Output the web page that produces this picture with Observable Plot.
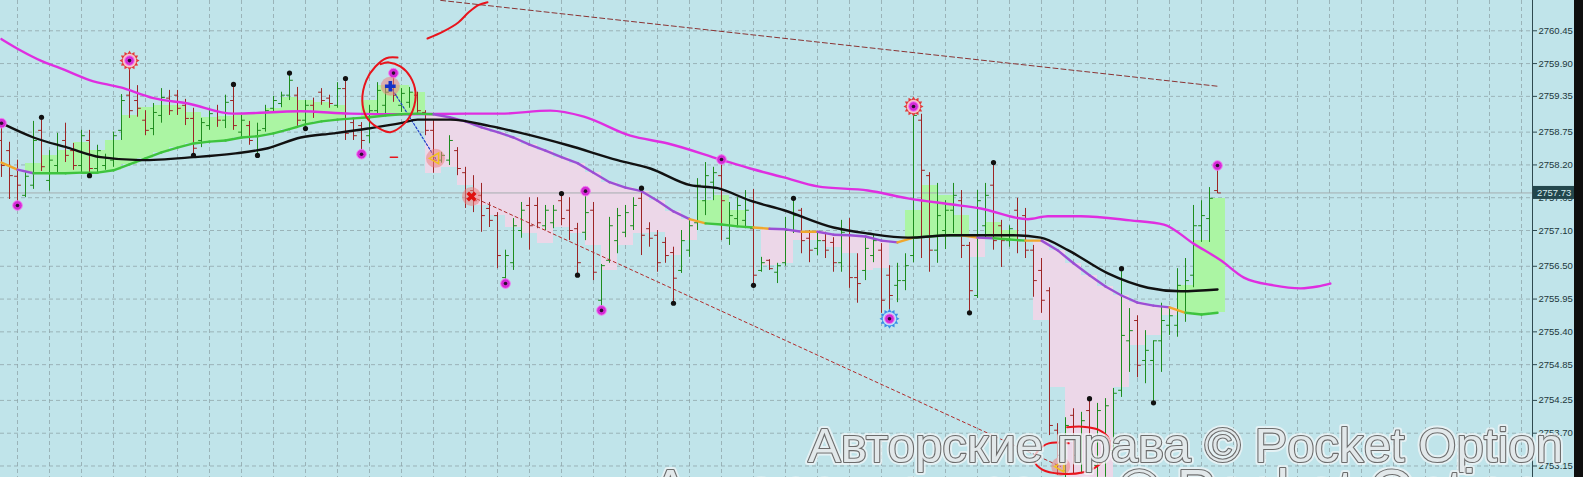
<!DOCTYPE html>
<html><head><meta charset="utf-8">
<script src="https://cdn.jsdelivr.net/npm/d3@7"></script>
<script src="https://cdn.jsdelivr.net/npm/@observablehq/plot@0.6"></script>
<style>html,body{margin:0;padding:0;background:#c0e4ea;overflow:hidden}</style>
</head><body><div id="chart"></div>
<script>
// ---------- OHLC bars (one per index) ----------
const barHigh = [
2758.91,2758.58,2758.28,2758.07,2758.93,2759.00,2758.44,2758.73,2758.90,2758.56,
2758.78,2758.78,2758.53,2758.38,2758.75,2759.38,2759.87,2759.53,2759.11,2759.23,
2759.48,2759.45,2759.45,2759.30,2759.15,2758.98,2759.15,2759.20,2759.37,2759.55,
2759.03,2758.93,2758.90,2759.20,2759.35,2759.42,2759.74,2759.50,2759.28,2759.32,
2759.48,2759.37,2759.58,2759.65,2758.98,2758.91,2759.20,2759.58,2759.50,2759.72,
2759.48,2759.50,2759.42,2759.11,2758.95,2758.41,2758.69,2758.49,2758.16,2758.02,
2757.89,2757.57,2757.40,2756.77,2757.30,2757.57,2757.65,2757.65,2757.52,2757.52,
2757.72,2757.65,2757.22,2757.76,2757.57,2756.53,2757.32,2757.47,2757.52,2757.65,
2757.81,2757.23,2757.10,2756.98,2756.82,2757.10,2757.30,2757.97,2758.24,2758.16,
2758.31,2757.57,2757.65,2757.77,2757.79,2756.65,2756.61,2756.55,2757.32,2757.64,
2757.47,2757.10,2757.07,2757.07,2756.98,2757.27,2757.30,2756.71,2756.98,2757.02,
2756.88,2756.51,2756.55,2756.71,2759.16,2759.05,2758.07,2757.89,2757.60,2757.89,
2757.77,2756.90,2757.77,2757.89,2758.24,2757.27,2757.18,2757.64,2757.47,2756.85,
2756.63,2756.14,2753.86,2753.96,2754.11,2754.05,2754.28,2754.20,2754.28,2754.45,
2756.46,2755.79,2755.67,2755.42,2755.25,2755.88,2755.81,2756.46,2756.63,2757.52,
2757.60,2757.82,2758.19];
const barLow = [
2757.99,2757.62,2757.57,2757.65,2757.79,2758.09,2757.76,2758.06,2758.24,2758.11,
2758.07,2758.02,2758.06,2758.11,2758.16,2758.61,2758.98,2759.00,2758.69,2758.69,
2758.90,2759.03,2759.03,2758.86,2758.36,2758.49,2758.78,2758.83,2758.81,2758.78,
2758.66,2758.53,2758.36,2758.75,2759.08,2759.16,2759.28,2758.81,2758.81,2758.98,
2759.20,2759.15,2759.15,2758.61,2758.61,2758.41,2758.56,2759.06,2759.06,2759.25,
2759.08,2759.15,2759.03,2758.69,2758.06,2758.23,2758.19,2758.02,2757.47,2757.40,
2757.07,2757.15,2756.46,2756.23,2756.43,2756.97,2756.77,2757.13,2757.10,2757.13,
2757.18,2756.93,2756.35,2756.93,2756.26,2755.76,2756.55,2756.71,2756.98,2757.10,
2756.68,2756.82,2756.40,2756.55,2755.88,2756.38,2756.65,2757.10,2757.35,2757.60,
2756.93,2756.85,2757.15,2757.13,2756.18,2756.40,2756.43,2756.21,2756.50,2757.05,
2756.71,2756.56,2756.68,2756.63,2756.40,2756.40,2756.13,2755.88,2756.26,2756.56,
2755.71,2755.71,2755.89,2756.09,2756.56,2756.63,2756.40,2756.55,2756.78,2757.05,
2756.63,2755.72,2755.96,2756.98,2756.77,2756.48,2756.82,2756.71,2756.63,2755.98,
2755.71,2753.66,2752.99,2752.91,2753.02,2753.02,2753.02,2752.96,2752.96,2753.24,
2754.30,2754.72,2754.63,2754.53,2754.21,2754.72,2755.34,2755.31,2755.56,2756.14,
2756.90,2756.90,2757.72];
const barOpen = [
2758.61,2758.44,2758.01,2757.69,2757.86,2758.78,2757.94,2758.19,2758.61,2758.44,
2758.19,2758.61,2758.14,2758.19,2758.28,2758.78,2759.37,2759.28,2758.95,2758.81,
2759.03,2759.32,2759.37,2759.20,2758.98,2758.61,2758.86,2759.11,2758.95,2759.28,
2758.75,2758.86,2758.44,2758.81,2759.15,2759.23,2759.37,2759.37,2758.95,2759.20,
2759.42,2759.32,2759.20,2759.48,2758.91,2758.86,2758.69,2759.11,2759.20,2759.53,
2759.20,2759.25,2759.37,2759.08,2758.78,2758.28,2758.28,2758.44,2758.07,2757.77,
2757.69,2757.47,2757.35,2756.31,2756.56,2757.10,2757.52,2757.52,2757.18,2757.23,
2757.60,2757.44,2757.13,2757.07,2757.44,2755.93,2756.60,2756.93,2757.07,2757.18,
2757.64,2757.13,2757.02,2756.90,2756.73,2756.43,2756.77,2757.23,2757.60,2757.91,
2758.02,2756.97,2757.30,2757.27,2757.13,2756.43,2756.60,2756.40,2756.56,2757.10,
2757.44,2756.97,2756.80,2756.93,2756.90,2756.56,2757.02,2756.31,2756.43,2756.68,
2756.77,2756.35,2756.18,2756.26,2756.68,2758.95,2758.02,2756.77,2757.10,2757.44,
2757.60,2756.85,2756.01,2757.18,2757.86,2757.18,2756.93,2757.44,2757.35,2756.77,
2756.43,2756.09,2753.75,2753.07,2754.00,2753.24,2754.08,2753.16,2753.24,2753.41,
2754.42,2755.25,2755.59,2754.92,2754.92,2755.25,2755.51,2755.51,2756.09,2756.35,
2757.18,2757.30,2757.77];
const barClose = [
2758.19,2758.02,2757.86,2758.01,2758.61,2758.17,2758.28,2758.53,2758.36,2758.19,
2758.69,2758.14,2758.44,2758.31,2758.69,2759.28,2759.11,2759.15,2758.78,2759.08,
2759.33,2759.11,2759.15,2758.98,2758.48,2758.91,2759.06,2758.95,2759.25,2758.86,
2758.95,2758.61,2758.78,2759.11,2759.28,2759.37,2759.62,2758.95,2759.20,2759.08,
2759.28,2759.23,2759.48,2758.73,2758.69,2758.61,2759.11,2759.45,2759.42,2759.37,
2759.40,2759.42,2759.11,2758.78,2758.28,2758.36,2758.61,2758.14,2757.64,2757.60,
2757.35,2757.27,2756.68,2756.68,2757.18,2757.44,2757.18,2757.23,2757.44,2757.44,
2757.30,2757.10,2756.56,2757.40,2756.40,2756.51,2757.18,2757.35,2757.40,2757.52,
2757.02,2756.97,2756.56,2756.68,2756.30,2756.93,2757.18,2757.86,2758.02,2758.07,
2757.60,2757.35,2757.52,2757.44,2756.35,2756.56,2756.46,2756.51,2757.10,2757.35,
2756.93,2756.77,2756.93,2756.77,2756.56,2757.07,2756.31,2756.21,2756.80,2756.93,
2755.93,2756.01,2756.26,2756.51,2759.03,2758.11,2756.77,2757.35,2757.44,2757.69,
2756.85,2756.09,2757.60,2757.69,2756.93,2756.93,2757.13,2756.93,2756.77,2756.26,
2755.93,2753.83,2753.33,2753.83,2753.33,2753.91,2753.33,2754.08,2754.16,2754.37,
2755.34,2755.42,2754.84,2755.09,2755.25,2755.59,2755.67,2756.18,2756.26,2757.18,
2757.35,2757.64,2757.73];
const lastPrice = 2757.73;

// ---------- axis ticks ----------
const yTicks = [2760.45,2759.90,2759.35,2758.75,2758.20,2757.65,2757.10,2756.50,2755.95,2755.40,2754.85,2754.25,2753.70,2753.15];

// ---------- medium MA (colored) + cloud edge, sampled every 2 bars ----------
const maIdx = [0,2,4,6,8,10,12,14,16,18,20,22,24,26,28,30,32,34,36,38,40,42,44,46,48,50,52,54,56,58,60,62,64,66,68,70,72,74,76,78,80,82,84,86,88,90,92,94,96,98,100,102,104,106,108,110,112,114,116,118,120,122,124,126,128,130,132,134,136,138,140,142,144,146,148,150,152];
const maVal = [2758.24,2758.12,2758.06,2758.06,2758.06,2758.07,2758.07,2758.11,2758.21,2758.31,
2758.41,2758.49,2758.56,2758.59,2758.61,2758.66,2758.68,2758.73,2758.80,2758.88,
2758.93,2758.96,2758.98,2759.00,2759.03,2759.05,2759.06,2759.05,2759.00,2758.93,
2758.83,2758.75,2758.66,2758.54,2758.44,2758.33,2758.23,2758.07,2757.91,2757.82,
2757.76,2757.60,2757.42,2757.29,2757.22,2757.20,2757.17,2757.15,2757.13,2757.12,
2757.08,2757.08,2757.03,2757.02,2757.00,2756.93,2756.90,2756.98,2757.00,2757.02,
2757.02,2756.98,2756.97,2756.95,2756.93,2756.93,2756.77,2756.55,2756.35,2756.16,
2756.01,2755.89,2755.84,2755.81,2755.72,2755.69,2755.72];
const maState = ("op" + "ggggggggggggggggggggggggg" + "pppppppppppppppp" + "o" + "ggg" + "o" + "pp" + "o" +
  "ppppp" + "o" + "ggg" + "o" + "p" + "gg" + "o" + "pppppppp" + "o" + "ggg").split("");
const cloudEdge = [null,null,2758.23,2758.36,2758.44,2758.58,2758.44,2758.61,2759.03,2759.16,
2759.20,2759.20,2759.08,2759.00,2759.01,2759.05,2759.08,2759.15,2759.33,2759.28,
2759.25,2759.20,null,2759.28,2759.53,2759.53,2759.42,2758.06,2758.16,2757.86,
2757.52,2757.35,2757.15,2757.05,2756.88,2757.15,2757.05,2756.85,2756.43,2756.85,
2757.05,2757.07,2756.68,2756.93,2757.60,2757.69,2757.44,null,2756.51,2756.55,
2756.93,2756.93,2756.82,2756.71,2756.43,2756.46,null,2757.44,2757.86,2757.69,
2757.35,2756.65,2757.23,2757.10,null,2755.59,2754.47,2752.96,2752.96,2752.96,
2754.47,2755.17,2755.34,2755.67,2756.18,2756.93,2757.64];

// ---------- magenta line (shifted forward) ----------
const magIdx = [0,2.4,4.9,7.4,11.1,14.9,19,23.3,29,37.4,43.6,49.9,58.3,62.4,68.6,72.8,78.6,83.3,89.9,93.6,97.8,102,108.3,113.3,118.6,122.4,128.3,130.8,134.9,141.1,145.3,149,152.4,155.3,159,162.4,164.5,166.1];
const magVal = [2760.31,2760.12,2759.95,2759.82,2759.62,2759.50,2759.32,2759.23,2759.06,2759.10,
2759.06,2759.05,2759.06,2759.06,2759.11,2759.01,2758.69,2758.56,2758.29,2758.14,
2757.99,2757.84,2757.77,2757.64,2757.54,2757.47,2757.29,2757.34,2757.34,2757.27,
2757.20,2756.88,2756.60,2756.31,2756.18,2756.13,2756.16,2756.21];

// ---------- black slow MA ----------
const blkIdx = [0,4,8.25,12.4,17.4,24,29,33.3,37.4,41.5,45.8,49.9,52,56.1,61.1,64.5,70.8,77,81.1,86.1,89.5,93.6,97.8,104,108.3,113.3,118.6,126.5,129.9,133.3,138.3,143.3,147.4,152];
const blkVal = [2758.90,2758.66,2758.49,2758.33,2758.28,2758.33,2758.39,2758.48,2758.66,2758.73,
2758.81,2758.90,2758.96,2758.96,2758.85,2758.75,2758.53,2758.28,2758.14,2757.86,
2757.81,2757.60,2757.44,2757.15,2757.05,2756.98,2757.02,2757.02,2756.98,2756.77,
2756.38,2756.14,2756.08,2756.11];

// ---------- markers ----------
const fracHighIdx = [5,29,36,43,70,80,99,124,136,140];
const fracLowIdx = [11,24,32,38,72,84,94,121,144];
const magDotIdx = [0,2,45,49,63,73,75,90,152];
const magDotVal = [2758.90,2757.52,2758.38,2759.74,2756.21,2757.76,2755.76,2758.29,2758.19];
const sunIdx = [16,114,111];
const sunVal = [2759.95,2759.18,2755.62];
const sunKind = ["red","red","blue"];
const signalIdx = [48.6,54.25,58.75,132.4];
const signalVal = [2759.52,2758.31,2757.67,2753.14];
const signalGlyph = ["cross","triangle","star","triangle"];

// ---------- drawn lines ----------
const redTrendIdx = [58.75,132.4], redTrendVal = [2757.67,2753.14];
const blueTrendIdx = [48.6,54.25], blueTrendVal = [2759.52,2758.31];
const brownTrendIdx = [54.9,152], brownTrendVal = [2760.96,2759.52];
const ann1Idx = [49.5,48.1,46.75,45.6,45.1,45.6,47,48.6,50.25,51.4,51.75,51.1,49.9,48.4,47.4];
const ann1Val = [2760.00,2759.99,2759.85,2759.62,2759.28,2759.01,2758.83,2758.75,2758.88,2759.11,2759.42,2759.68,2759.85,2759.92,2759.89];
const ann2Idx = [53.25,55.25,57.1,58.4,59.6,60.75];
const ann2Val = [2760.32,2760.44,2760.59,2760.76,2760.88,2760.93];
const ann3Idx = [48.6,49.5], ann3Val = [2758.33,2758.33];
const ann4Idx = [133.4,130.9,129.6,129.1,130.1,132.4,135.1,137.1,138.4,138.4,137.1,135.1,133.2];
const ann4Val = [2753.53,2753.53,2753.41,2753.24,2753.09,2753.02,2753.04,2753.16,2753.38,2753.61,2753.76,2753.81,2753.80];
const watermark = "Авторские права © Pocket Option";

// ---------- build ----------
const W = 1583, H = 477;
const xDomain = [-0.125, 191.375];
const yDomain = [2752.957, 2760.958];
const pts = (xs, ys) => xs.map((x, k) => ({x, y: ys[k]}));
const bars = barHigh.map((h, i) => ({i, h, l: barLow[i], o: barOpen[i], c: barClose[i]}));
const barColor = d => d.c >= d.o ? "#1e8c1e" : "#9c2525";
const maPts = maIdx.map((i, k) => ({i, v: maVal[k], s: maState[k], e: cloudEdge[k]}));
const maSegs = maPts.slice(0, -1).map((d, k) => ({x1: d.i, y1: d.v, x2: maPts[k + 1].i, y2: maPts[k + 1].v, s: d.s}));
const stateColor = {g: "#3ec43e", p: "#9b4fd4", o: "#f0a72c"};
const clouds = maPts.filter(d => d.e != null);
const magDots = pts(magDotIdx, magDotVal);
const suns = sunIdx.map((x, k) => ({x, y: sunVal[k], kind: sunKind[k]}));
const signals = signalIdx.map((x, k) => ({x, y: signalVal[k], g: signalGlyph[k]}));

const sunSymbol = {
  draw(ctx, size) {
    const R = Math.sqrt(size / Math.PI), r = R * 0.72, n = 12;
    for (let k = 0; k < 2 * n; k++) {
      const a = k * Math.PI / n, rr = k % 2 ? r : R;
      const px = rr * Math.cos(a), py = rr * Math.sin(a);
      k ? ctx.lineTo(px, py) : ctx.moveTo(px, py);
    }
    ctx.closePath();
  }
};
const gridCol = "#8ea3a7";

const plot = Plot.plot({
  width: W, height: H,
  marginTop: 0, marginBottom: 0, marginLeft: 0, marginRight: 51,
  style: {background: "#c0e4ea", fontFamily: "'Liberation Sans', Arial, sans-serif", fontSize: "9.5px", color: "#22373b"},
  x: {domain: xDomain, axis: null},
  y: {domain: yDomain},
  color: {type: "identity"},
  marks: [
    Plot.ruleX(d3.range(2, 191, 4), {stroke: gridCol, strokeDasharray: "4,3", strokeOpacity: 0.75}),
    Plot.ruleY(yTicks, {stroke: gridCol, strokeDasharray: "4,3", strokeOpacity: 0.75}),
    Plot.rect(clouds, {x1: d => d.i - 1, x2: d => d.i + 1, y1: "v", y2: "e",
      fill: d => d.e > d.v ? "#abf5a3" : "#ecd7e8", shapeRendering: "crispEdges"}),
    Plot.ruleY([lastPrice], {stroke: "#a5adaf", strokeWidth: 1}),
    Plot.line(pts(brownTrendIdx, brownTrendVal), {x: "x", y: "y", stroke: "#8a3434", strokeDasharray: "5,3", strokeWidth: 1}),
    Plot.ruleX(bars, {x: "i", y1: "l", y2: "h", stroke: barColor, strokeWidth: 1}),
    Plot.link(bars, {x1: d => d.i - 0.42, x2: "i", y1: "o", y2: "o", stroke: barColor}),
    Plot.link(bars, {x1: "i", x2: d => d.i + 0.42, y1: "c", y2: "c", stroke: barColor}),
    Plot.line(pts(redTrendIdx, redTrendVal), {x: "x", y: "y", stroke: "#b02a2a", strokeDasharray: "3,3", strokeWidth: 1}),
    Plot.line(pts(blueTrendIdx, blueTrendVal), {x: "x", y: "y", stroke: "#1a3cc8", strokeDasharray: "2,2", strokeWidth: 1.2}),
    Plot.line(pts(magIdx, magVal), {x: "x", y: "y", stroke: "#df2ee0", strokeWidth: 2.4, curve: "monotone-x"}),
    Plot.link(maSegs, {x1: "x1", y1: "y1", x2: "x2", y2: "y2", stroke: d => stateColor[d.s], strokeWidth: 2.4, strokeLinecap: "round"}),
    Plot.line(pts(blkIdx, blkVal), {x: "x", y: "y", stroke: "#111111", strokeWidth: 2.4, curve: "monotone-x"}),
    Plot.dot(bars.filter(d => fracHighIdx.includes(d.i)), {x: "i", y: "h", r: 2.6, fill: "#111"}),
    Plot.dot(bars.filter(d => fracLowIdx.includes(d.i)), {x: "i", y: "l", r: 2.6, fill: "#111"}),
    Plot.dot(suns, {x: "x", y: "y", r: 10, symbol: sunSymbol, fill: d => d.kind === "red" ? "#e23b3b" : "#3a8fe8"}),
    Plot.dot(suns, {x: "x", y: "y", r: 6.8, fill: d => d.kind === "red" ? "#f7c6c6" : "#bfe0fa"}),
    Plot.dot(magDots.concat(suns), {x: "x", y: "y", r: 4.8, fill: "#d42ad6", stroke: "#f27cf2", strokeWidth: 1}),
    Plot.dot(magDots.concat(suns), {x: "x", y: "y", r: 1.8, fill: "#2a0f30"}),
    Plot.dot(signals, {x: "x", y: "y", r: 9.5, fill: "#ee7f7f", fillOpacity: 0.55}),
    Plot.dot(signals.filter(d => d.g === "cross"), {x: "x", y: "y", r: 4.5, symbol: "cross", fill: "#1432c8"}),
    Plot.dot(signals.filter(d => d.g === "triangle"), {x: "x", y: "y", r: 4, symbol: "triangle", fill: "none", stroke: "#f2c21c", strokeWidth: 1.5, rotate: -90}),
    Plot.dot(signals.filter(d => d.g === "star"), {x: "x", y: "y", r: 4.5, symbol: "cross", fill: "#e01010", rotate: 45}),
    Plot.line(pts(ann1Idx, ann1Val), {x: "x", y: "y", stroke: "#e8141c", strokeWidth: 2, curve: "catmull-rom"}),
    Plot.line(pts(ann2Idx, ann2Val), {x: "x", y: "y", stroke: "#e8141c", strokeWidth: 2, curve: "catmull-rom"}),
    Plot.line(pts(ann3Idx, ann3Val), {x: "x", y: "y", stroke: "#e8141c", strokeWidth: 1.5}),
    Plot.line(pts(ann4Idx, ann4Val), {x: "x", y: "y", stroke: "#e8141c", strokeWidth: 2, curve: "catmull-rom"}),
    Plot.axisY(yTicks, {anchor: "right", tickSize: 4, tickPadding: 2, tickFormat: d => d.toFixed(2), label: null, fill: "#22373b", stroke: "#2f4a50"}),
    Plot.ruleX([xDomain[1]], {stroke: "#2f4a50", strokeWidth: 1})
  ]
});
document.getElementById("chart").appendChild(plot);

// ---------- overlays: current price tag, screen edge, watermark ----------
const svg = d3.select(plot);
const yp = plot.scale("y").apply(lastPrice);
const xAxis = plot.scale("x").apply(xDomain[1]);
const tag = svg.append("g").attr("text-anchor", "start");
tag.append("rect").attr("x", xAxis + 1).attr("y", yp - 6.5).attr("width", 41).attr("height", 13).attr("fill", "#23474d");
tag.append("text").attr("x", xAxis + 5).attr("y", yp + 3.5).attr("fill", "#d8eef0").attr("text-anchor", "start")
  .attr("font-family", "'Liberation Sans', Arial, sans-serif").attr("font-size", "9.5px").text(lastPrice.toFixed(2));
svg.append("rect").attr("x", W - 9).attr("y", 0).attr("width", 9).attr("height", H).attr("fill", "#0e0e0e");

const wm = svg.append("g").attr("font-family", "'Liberation Sans', Arial, sans-serif").attr("text-anchor", "start");
[[808, 462, 49, 755], [651, 510, 57, 889]].forEach(([x, y, fs, len]) => {
  wm.append("text").attr("x", x).attr("y", y).attr("font-size", fs + "px").attr("text-anchor", "start")
    .attr("textLength", len).attr("lengthAdjust", "spacingAndGlyphs")
    .attr("fill", "none").attr("stroke", "#f2f6f7").attr("stroke-opacity", 0.75).attr("stroke-width", 6)
    .attr("stroke-linejoin", "round").text(watermark);
  wm.append("text").attr("x", x).attr("y", y).attr("font-size", fs + "px").attr("text-anchor", "start")
    .attr("textLength", len).attr("lengthAdjust", "spacingAndGlyphs")
    .attr("fill", "#e2e8ea").attr("stroke", "#6c6c6c").attr("stroke-width", 2.2)
    .attr("paint-order", "stroke").attr("stroke-linejoin", "round").text(watermark);
});
</script>
</body></html>
